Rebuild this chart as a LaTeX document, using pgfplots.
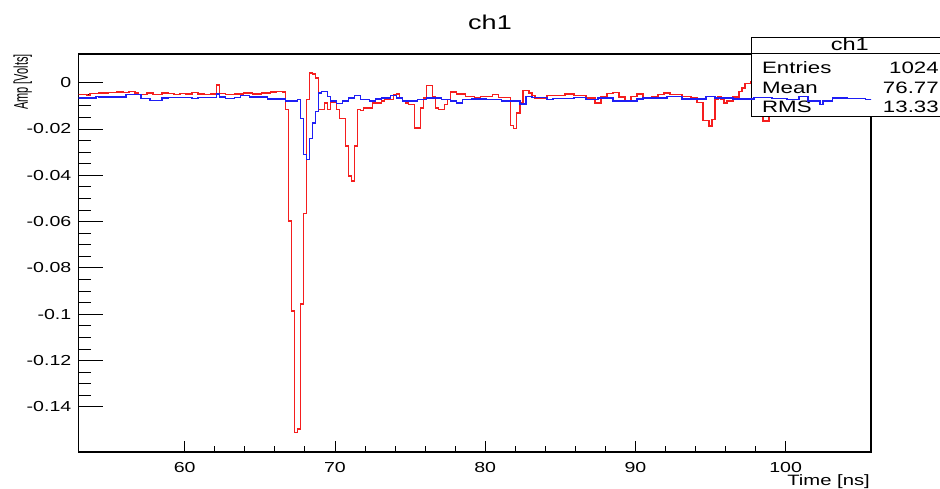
\documentclass[border=0pt]{standalone}
\usepackage{pgfplots}
\pgfplotsset{compat=1.18}
\usepackage{fontspec}
\setmainfont{Liberation Sans}[FakeStretch=1.35]
\newfontfamily\plainsf{Liberation Sans}
\definecolor{rootred}{RGB}{245,30,30}
\definecolor{rootblue}{RGB}{30,30,245}

\begin{document}
\begin{tikzpicture}[x=1pt,y=1pt]
\useasboundingbox (0,0) rectangle (940,489);
\clip (0,0) rectangle (940,489);
\begin{axis}[at={(78.5pt,37pt)}, anchor=south west, scale only axis,
  width=792.5pt, height=398pt,
  xmin=52.93, xmax=105.68, ymin=-0.1595, ymax=0.0124,
  axis line style={line width=1.1pt},
  tick pos=left, tick align=inside,
  xtick={60,70,80,90,100}, xticklabels={60,70,80,90,100},
  ytick={-0.14,-0.12,-0.1,-0.08,-0.06,-0.04,-0.02,0},
  yticklabels={-0.14,-0.12,-0.1,-0.08,-0.06,-0.04,-0.02,0},
  minor x tick num=4, minor y tick num=3,
  xtick style={line width=0.9pt, black, /pgfplots/major tick length=11pt, /pgfplots/minor tick length=5.5pt},
  ytick style={line width=0.9pt, black, /pgfplots/major tick length=24pt, /pgfplots/minor tick length=12pt},
  xticklabel style={font=\fontsize{14.5}{16}\selectfont, inner sep=0pt, yshift=-10pt},
  yticklabel style={font=\fontsize{14.5}{16}\selectfont, inner sep=0pt, xshift=-7pt},
  clip mode=individual,
]
% red channel (histogram steps)
\addplot[draw=rootred, line width=1.5pt, sharp plot, no markers] coordinates {
(52.9,-0.0050) (53.5,-0.0050) (53.5,-0.0056) (53.7,-0.0056) (53.7,-0.0047) (54.3,-0.0047)
(54.3,-0.0044) (54.9,-0.0044) (54.9,-0.0042) (55.5,-0.0042) (55.5,-0.0040) (55.9,-0.0040)
(55.9,-0.0042) (56.3,-0.0042) (56.3,-0.0037) (56.7,-0.0037) (56.7,-0.0044) (56.9,-0.0044)
(56.9,-0.0052) (57.5,-0.0052) (57.5,-0.0044) (57.9,-0.0044) (57.9,-0.0052) (58.5,-0.0052)
(58.5,-0.0044) (58.9,-0.0044) (58.9,-0.0047) (59.3,-0.0047) (59.3,-0.0052) (59.7,-0.0052)
(59.7,-0.0046) (60.1,-0.0046) (60.1,-0.0049) (60.5,-0.0049) (60.5,-0.0043) (60.9,-0.0043)
(60.9,-0.0049) (61.3,-0.0049) (61.3,-0.0052) (61.7,-0.0052) (61.7,-0.0048) (62.1,-0.0048)
(62.1,-0.0009) (62.3,-0.0009) (62.3,-0.0047) (62.7,-0.0047) (62.7,-0.0052) (63.3,-0.0052)
(63.3,-0.0049) (63.9,-0.0049) (63.9,-0.0045) (64.5,-0.0045) (64.5,-0.0048) (65.1,-0.0048)
(65.1,-0.0044) (65.7,-0.0044) (65.7,-0.0040) (66.1,-0.0040) (66.1,-0.0037) (66.5,-0.0037)
(66.5,-0.0040) (66.7,-0.0040) (66.7,-0.0116) (66.9,-0.0116) (66.9,-0.0597) (67.1,-0.0597)
(67.1,-0.0985) (67.3,-0.0985) (67.3,-0.1511) (67.5,-0.1511) (67.5,-0.1495) (67.7,-0.1495)
(67.7,-0.0956) (67.9,-0.0956) (67.9,-0.0565) (68.1,-0.0565) (68.1,-0.0073) (68.3,-0.0073)
(68.3,0.0042) (68.5,0.0042) (68.5,0.0038) (68.7,0.0038) (68.7,0.0020) (68.9,0.0020)
(68.9,-0.0116) (69.3,-0.0116) (69.3,-0.0088) (69.5,-0.0088) (69.5,-0.0116) (69.7,-0.0116)
(69.7,-0.0085) (70.1,-0.0085) (70.1,-0.0116) (70.3,-0.0116) (70.3,-0.0155) (70.7,-0.0155)
(70.7,-0.0274) (70.9,-0.0274) (70.9,-0.0404) (71.1,-0.0404) (71.1,-0.0424) (71.3,-0.0424)
(71.3,-0.0274) (71.5,-0.0274) (71.5,-0.0116) (71.7,-0.0116) (71.7,-0.0121) (71.9,-0.0121)
(71.9,-0.0109) (72.5,-0.0109) (72.5,-0.0088) (73.1,-0.0088) (73.1,-0.0080) (73.3,-0.0080)
(73.3,-0.0073) (73.9,-0.0073) (73.9,-0.0052) (74.1,-0.0052) (74.1,-0.0049) (74.3,-0.0049)
(74.3,-0.0066) (74.5,-0.0066) (74.5,-0.0080) (74.7,-0.0080) (74.7,-0.0088) (74.9,-0.0088)
(74.9,-0.0095) (75.3,-0.0095) (75.3,-0.0195) (75.7,-0.0195) (75.7,-0.0109) (75.9,-0.0109)
(75.9,-0.0066) (76.1,-0.0066) (76.1,-0.0012) (76.5,-0.0012) (76.5,-0.0059) (76.7,-0.0059)
(76.7,-0.0109) (76.9,-0.0109) (76.9,-0.0116) (77.3,-0.0116) (77.3,-0.0095) (77.5,-0.0095)
(77.5,-0.0073) (77.7,-0.0073) (77.7,-0.0040) (78.1,-0.0040) (78.1,-0.0049) (78.7,-0.0049)
(78.7,-0.0059) (79.3,-0.0059) (79.3,-0.0066) (79.7,-0.0066) (79.7,-0.0059) (80.5,-0.0059)
(80.5,-0.0052) (80.9,-0.0052) (80.9,-0.0063) (81.7,-0.0063) (81.7,-0.0185) (81.9,-0.0185)
(81.9,-0.0198) (82.1,-0.0198) (82.1,-0.0130) (82.3,-0.0130) (82.3,-0.0088) (82.5,-0.0088)
(82.5,-0.0033) (82.9,-0.0033) (82.9,-0.0044) (83.1,-0.0044) (83.1,-0.0056) (83.3,-0.0056)
(83.3,-0.0066) (84.1,-0.0066) (84.1,-0.0056) (85.3,-0.0056) (85.3,-0.0049) (85.9,-0.0049)
(85.9,-0.0056) (86.7,-0.0056) (86.7,-0.0066) (87.3,-0.0066) (87.3,-0.0087) (87.7,-0.0087)
(87.7,-0.0059) (88.1,-0.0059) (88.1,-0.0047) (88.5,-0.0047) (88.5,-0.0042) (88.9,-0.0042)
(88.9,-0.0062) (89.3,-0.0062) (89.3,-0.0080) (89.7,-0.0080) (89.7,-0.0059) (90.1,-0.0059)
(90.1,-0.0049) (90.5,-0.0049) (90.5,-0.0066) (91.1,-0.0066) (91.1,-0.0059) (91.5,-0.0059)
(91.5,-0.0052) (91.9,-0.0052) (91.9,-0.0044) (92.3,-0.0044) (92.3,-0.0052) (93.1,-0.0052)
(93.1,-0.0059) (93.7,-0.0059) (93.7,-0.0066) (94.1,-0.0066) (94.1,-0.0085) (94.5,-0.0085)
(94.5,-0.0164) (94.9,-0.0164) (94.9,-0.0188) (95.1,-0.0188) (95.1,-0.0159) (95.3,-0.0159)
(95.3,-0.0073) (95.5,-0.0073) (95.5,-0.0062) (95.7,-0.0062) (95.7,-0.0070) (95.9,-0.0070)
(95.9,-0.0088) (96.1,-0.0088) (96.1,-0.0080) (96.5,-0.0080) (96.5,-0.0062) (96.9,-0.0062)
(96.9,-0.0037) (97.1,-0.0037) (97.1,-0.0023) (97.3,-0.0023) (97.3,-0.0004) (97.7,-0.0004)
(97.7,0.0005) (98.1,0.0005) (98.1,-0.0060) (98.5,-0.0060) (98.5,-0.0165) (98.9,-0.0165)
(98.9,-0.0070) (99.3,-0.0070) (99.3,-0.0050) (101.1,-0.0050) (101.1,-0.0055) (103.1,-0.0055)
(103.1,-0.0050) (105.9,-0.0050)
};
% stats box
\draw[fill=white, line width=1.1pt] (axis cs:97.75,0.0197) rectangle (axis cs:110.8,-0.01452);
\draw[line width=1.1pt] (axis cs:97.75,0.0128) -- (axis cs:110.8,0.0128);
\node[anchor=base, inner sep=0pt, font=\fontsize{17.5}{19}\selectfont] at (axis cs:104.27,0.01380) {ch1};
\node[anchor=base west, inner sep=0pt, font=\fontsize{16.5}{18}\selectfont] at (axis cs:98.42,0.00388) {Entries};
\node[anchor=base west, inner sep=0pt, font=\fontsize{16.5}{18}\selectfont] at (axis cs:98.42,-0.00453) {Mean};
\node[anchor=base west, inner sep=0pt, font=\fontsize{16.5}{18}\selectfont] at (axis cs:98.42,-0.01293) {RMS};
\node[anchor=base east, inner sep=0pt, font=\fontsize{16.5}{18}\selectfont] at (axis cs:110.2,0.00388) {1024};
\node[anchor=base east, inner sep=0pt, font=\fontsize{16.5}{18}\selectfont] at (axis cs:110.2,-0.00453) {76.77};
\node[anchor=base east, inner sep=0pt, font=\fontsize{16.5}{18}\selectfont] at (axis cs:110.2,-0.01293) {13.33};
% blue channel (histogram steps)
\addplot[draw=rootblue, line width=1.5pt, sharp plot, no markers] coordinates {
(52.9,-0.0066) (54.1,-0.0066) (54.1,-0.0059) (54.3,-0.0059) (54.3,-0.0062) (56.1,-0.0062)
(56.1,-0.0052) (57.1,-0.0052) (57.1,-0.0068) (57.7,-0.0068) (57.7,-0.0077) (58.5,-0.0077)
(58.5,-0.0066) (58.9,-0.0066) (58.9,-0.0063) (60.5,-0.0063) (60.5,-0.0069) (60.9,-0.0069)
(60.9,-0.0063) (62.1,-0.0063) (62.1,-0.0049) (62.3,-0.0049) (62.3,-0.0061) (62.7,-0.0061)
(62.7,-0.0069) (63.3,-0.0069) (63.3,-0.0063) (63.7,-0.0063) (63.7,-0.0056) (64.3,-0.0056)
(64.3,-0.0062) (65.5,-0.0062) (65.5,-0.0070) (66.7,-0.0070) (66.7,-0.0080) (67.5,-0.0080)
(67.5,-0.0073) (67.7,-0.0073) (67.7,-0.0155) (67.9,-0.0155) (67.9,-0.0310) (68.1,-0.0310)
(68.1,-0.0332) (68.3,-0.0332) (68.3,-0.0240) (68.5,-0.0240) (68.5,-0.0174) (68.7,-0.0174)
(68.7,-0.0124) (68.9,-0.0124) (68.9,-0.0044) (69.1,-0.0044) (69.1,-0.0037) (69.5,-0.0037)
(69.5,-0.0059) (69.7,-0.0059) (69.7,-0.0080) (70.1,-0.0080) (70.1,-0.0089) (70.5,-0.0089)
(70.5,-0.0080) (70.9,-0.0080) (70.9,-0.0066) (71.3,-0.0066) (71.3,-0.0056) (71.7,-0.0056)
(71.7,-0.0073) (72.3,-0.0073) (72.3,-0.0080) (72.7,-0.0080) (72.7,-0.0070) (73.1,-0.0070)
(73.1,-0.0066) (73.7,-0.0066) (73.7,-0.0056) (74.1,-0.0056) (74.1,-0.0066) (74.5,-0.0066)
(74.5,-0.0078) (75.5,-0.0078) (75.5,-0.0073) (76.1,-0.0073) (76.1,-0.0066) (77.1,-0.0066)
(77.1,-0.0073) (77.7,-0.0073) (77.7,-0.0080) (78.1,-0.0080) (78.1,-0.0088) (78.5,-0.0088)
(78.5,-0.0073) (79.1,-0.0073) (79.1,-0.0070) (80.1,-0.0070) (80.1,-0.0073) (81.1,-0.0073)
(81.1,-0.0080) (82.3,-0.0080) (82.3,-0.0091) (82.7,-0.0091) (82.7,-0.0059) (83.1,-0.0059)
(83.1,-0.0063) (84.1,-0.0063) (84.1,-0.0073) (84.5,-0.0073) (84.5,-0.0069) (85.9,-0.0069)
(85.9,-0.0063) (86.7,-0.0063) (86.7,-0.0073) (87.5,-0.0073) (87.5,-0.0066) (88.5,-0.0066)
(88.5,-0.0080) (89.5,-0.0080) (89.5,-0.0078) (90.1,-0.0078) (90.1,-0.0070) (90.5,-0.0070)
(90.5,-0.0066) (92.1,-0.0066) (92.1,-0.0059) (93.1,-0.0059) (93.1,-0.0070) (94.7,-0.0070)
(94.7,-0.0059) (95.3,-0.0059) (95.3,-0.0066) (96.5,-0.0066) (96.5,-0.0070) (97.9,-0.0070)
(97.9,-0.0063) (99.1,-0.0063) (99.1,-0.0069) (100.1,-0.0069) (100.1,-0.0073) (100.9,-0.0073)
(100.9,-0.0059) (101.5,-0.0059) (101.5,-0.0080) (102.3,-0.0080) (102.3,-0.0095) (102.5,-0.0095)
(102.5,-0.0080) (103.1,-0.0080) (103.1,-0.0066) (104.1,-0.0066) (104.1,-0.0069) (105.3,-0.0069)
(105.3,-0.0073) (105.9,-0.0073)
};
\end{axis}
\node[font=\fontsize{20}{22}\selectfont] at (490,467) {ch1};
\node[anchor=base east, inner sep=0pt, font=\fontsize{15}{17}\selectfont] at (870,3) {Time [ns]};
\node[xscale=1.8, rotate=90, anchor=base east, inner sep=0pt, font=\plainsf\fontsize{11}{13}\selectfont] at (28,435) {Amp [Volts]};
\end{tikzpicture}
\end{document}
